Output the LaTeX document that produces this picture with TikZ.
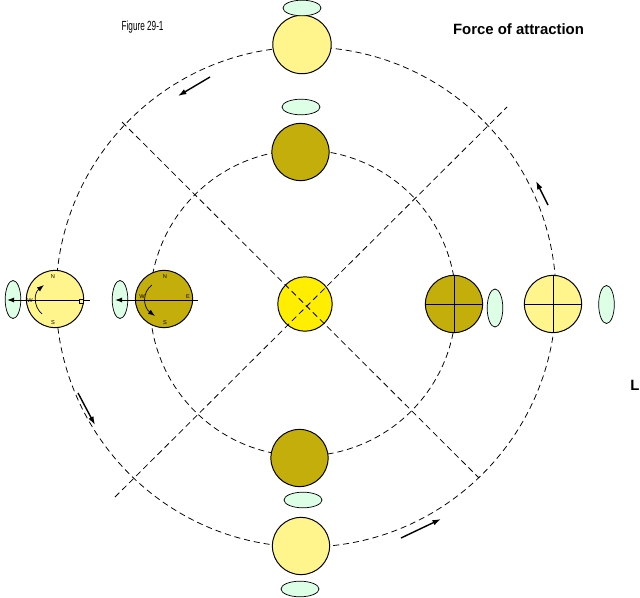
\documentclass[tikz,border=0pt]{standalone}
\usepackage{fontspec}
\setsansfont{Liberation Sans}
\usetikzlibrary{shapes.geometric,arrows.meta}

\definecolor{paleyellow}{RGB}{255,245,140}
\definecolor{moonbrown}{RGB}{196,174,12}
\definecolor{sunyellow}{RGB}{255,238,0}
\definecolor{bulgegreen}{RGB}{221,255,230}

\tikzset{
    orbit/.style={line width=0.55pt, dash pattern=on 4.3pt off 2.8pt},
    axisline/.style={line width=0.55pt, dash pattern=on 4.3pt off 2.8pt},
    disc/.style={circle, draw, line width=0.7pt, minimum size=1.43cm, inner sep=0pt},
    bulgeh/.style={ellipse, draw, fill=bulgegreen, line width=0.5pt, minimum width=0.95cm, minimum height=0.39cm, inner sep=0pt},
    bulgev/.style={ellipse, draw, fill=bulgegreen, line width=0.5pt, minimum width=0.39cm, minimum height=0.95cm, inner sep=0pt},
    tiny/.style={font=\sffamily\fontsize{4}{4}\selectfont, inner sep=0pt},
    push/.style={-{Latex[length=6pt,width=4pt]}, line width=1pt}
}

\begin{document}
\begin{tikzpicture}[x=0.025cm, y=-0.025cm]

    \useasboundingbox (0,0) rectangle (640,598);

    \draw[orbit] (306,297) circle (250); % outer orbit
    \draw[orbit] (303,303) circle (153); % inner orbit

    % discs
    \node[disc, fill=paleyellow, minimum size=1.46cm] (ytop) at (302,44.5) {};
    \node[disc, fill=moonbrown] (btop) at (300.5,152) {};
    \node[disc, fill=moonbrown] (bbot) at (299.5,458) {};
    \node[disc, fill=paleyellow] (ybot) at (301,546) {};
    \node[disc, fill=paleyellow] (yleft) at (55,299) {};
    \node[disc, fill=moonbrown] (bleft) at (164,299) {};
    \node[disc, fill=moonbrown] (bright) at (454,304) {};
    \node[disc, fill=paleyellow] (yright) at (553,304) {};
    \node[disc, fill=sunyellow, minimum size=1.36cm] (sun) at (305,304) {};

    % bulges
    \node[bulgeh] (gtop1) at (302,8) {};
    \node[bulgeh] (gtop2) at (301,107) {};
    \node[bulgeh] (gbot1) at (303,500) {};
    \node[bulgeh] (gbot2) at (300,589) {};
    \node[bulgev] (gleft1) at (13,299.5) {};
    \node[bulgev] (gleft2) at (120,299.5) {};
    \node[bulgev] (gright1) at (495,308) {};
    \node[bulgev] (gright2) at (606.5,304.5) {};

    % axes through the sun
    \coordinate (d1a) at (122,122);
    \coordinate (d1b) at (479,478);
    \coordinate (d2a) at (115,497);
    \coordinate (d2b) at (507,107);
    \draw[axisline] (d1a) -- (d1b);
    \draw[axisline] (d2a) -- (d2b);

    % cross lines
    \draw[line width=0.7pt] (bright.north) -- (bright.south);
    \draw[line width=0.7pt] (bright.west) -- (bright.east);
    \draw[line width=0.7pt] (yright.north) -- (yright.south);
    \draw[line width=0.7pt] (yright.west) -- (yright.east);

    % left discs
    \coordinate (yl1) at (90,300);
    \coordinate (yl2) at (7,300);
    \coordinate (bl1) at (198,300);
    \coordinate (bl2) at (115,300);
    \draw[-{Latex[length=5pt,width=3.5pt]}, line width=0.7pt] (yl1) -- (yl2);
    \draw[-{Latex[length=5pt,width=3.5pt]}, line width=0.7pt] (bl1) -- (bl2);
    \node[draw, fill=paleyellow, line width=0.5pt, inner sep=0pt, minimum size=0.1cm] (ysq) at (81,301) {};

    \coordinate (yr1) at (42,314);
    \coordinate (yr2) at (44,285);
    \draw[-{Latex[length=5pt,width=3.5pt]}, line width=0.5pt] (yr1) .. controls (33,306) and (34,293) .. (yr2);
    \coordinate (br1) at (152,285);
    \coordinate (br2) at (155,316);
    \draw[-{Latex[length=5pt,width=3.5pt]}, line width=0.5pt] (br1) .. controls (142,292) and (143,307) .. (br2);

    \node[tiny] (yn) at (53,277) {N};
    \node[tiny] (ys) at (53,323) {S};
    \node[tiny] (yw) at (30,301) {W};
    \node[tiny] (bn) at (165,276.5) {N};
    \node[tiny] (bs) at (165,323) {S};
    \node[tiny] (bw) at (142,297) {W};
    \node[tiny] (be) at (188,297) {E};

    % orbit arrows
    \coordinate (a1) at (210,77);  \coordinate (a1t) at (178,96);
    \coordinate (a2) at (548,205); \coordinate (a2t) at (536,181);
    \coordinate (a3) at (78,393);  \coordinate (a3t) at (95,425);
    \coordinate (a4) at (401,538); \coordinate (a4t) at (441,519);
    \draw[push] (a1) -- (a1t);
    \draw[push] (a2) -- (a2t);
    \draw[push] (a3) -- (a3t);
    \draw[push] (a4) -- (a4t);

    % texts
    \node[anchor=base, inner sep=0pt, font=\sffamily\fontsize{9.4}{10}\selectfont] (fig) at (142.6,30.3) {\scalebox{0.62}[1]{Figure 29-1}};
    \node[anchor=base, inner sep=0pt, font=\sffamily\bfseries\fontsize{10.6}{12}\selectfont] (title) at (518.5,34.3) {Force of attraction};
    \node[anchor=base west, inner sep=0pt, font=\sffamily\bfseries\fontsize{10.6}{12}\selectfont] (lbl) at (630,390.7) {L};

\end{tikzpicture}
\end{document}
